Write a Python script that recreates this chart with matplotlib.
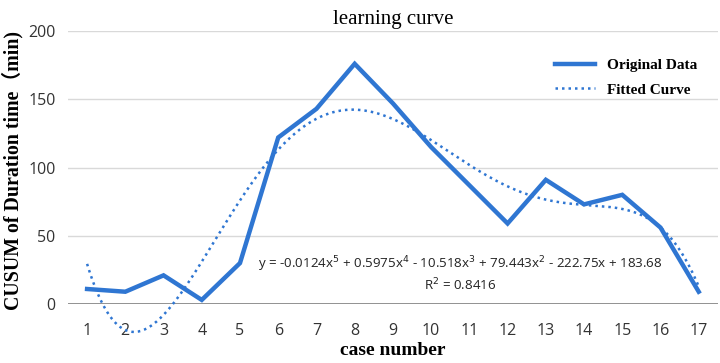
import numpy as np
import matplotlib.pyplot as plt

# case numbers and CUSUM values
cases = [1, 2, 3, 4, 5, 6, 7, 8, 9, 10, 11, 12, 13, 14, 15, 16, 17]
cusum = [11, 9, 21, 3, 30, 122, 143, 176, 147, 115, 87, 59, 91, 73, 80, 56, 9]

# trendline label as printed on the chart
eq_label = ('y = -0.0124x$^5$ + 0.5975x$^4$ - 10.518x$^3$ + 79.443x$^2$'
            ' - 222.75x + 183.68')
r_squared = 0.8416

yticks = [0, 50, 100, 150, 200]

blue = '#2F76D2'
serif = 'Liberation Serif'

fig = plt.figure(figsize=(7.2, 3.63), dpi=100)
ax = fig.add_axes([0.0944, 0.1625, 0.9026, 0.752])

# gridlines
for v in yticks[1:]:
    ax.axhline(v, color='#D9D9D9', lw=1, zorder=0)
ax.axhline(0, color='#7F7F7F', lw=1.2, zorder=1)

ax.plot(cases, cusum, color=blue, lw=3.2, solid_joinstyle='miter',
        label='Original Data', zorder=3)

# 5th order polynomial trendline (same fit as the spreadsheet trendline)
coef = np.polyfit(cases, cusum, 5)
xs = np.linspace(cases[0], cases[-1], 300)
ax.plot(xs, np.polyval(coef, xs), color=blue, lw=1.8,
        linestyle=(0, (1, 1.6)), label='Fitted Curve', clip_on=False, zorder=2)

ax.set_xlim(0.5, 17.5)
ax.set_ylim(0, 200)
ax.set_xticks(cases)
ax.set_yticks(yticks)
ax.tick_params(length=0, labelsize=11.5, labelcolor='#333333', pad=9)
for lab in ax.get_xticklabels() + ax.get_yticklabels():
    lab.set_family('Open Sans')
ax.tick_params(axis='x', pad=14)
for s in ax.spines.values():
    s.set_visible(False)

ax.set_title('learning curve', family=serif, fontsize=15, pad=5)
ax.set_xlabel('case number', family=serif, fontsize=14, fontweight='bold', labelpad=2)
ax.set_ylabel('CUSUM of Duration time\uff08min)', family=[serif, 'Noto Sans CJK SC'],
              fontsize=14.3, fontweight='bold')
ax.yaxis.set_label_coords(-0.068, 0.49)

ax.text(10.77, 22, eq_label + '\nR$^2$ = %.4f' % r_squared, ha='center', va='center',
        fontsize=9.6, family='Open Sans', color='#222222', linespacing=1.25)

leg = ax.legend(loc='upper right', bbox_to_anchor=(0.99, 0.95), frameon=False,
                prop={'family': serif, 'weight': 'bold', 'size': 11},
                handlelength=2.6, labelspacing=0.7)

fig.savefig('out.png', dpi=100)
